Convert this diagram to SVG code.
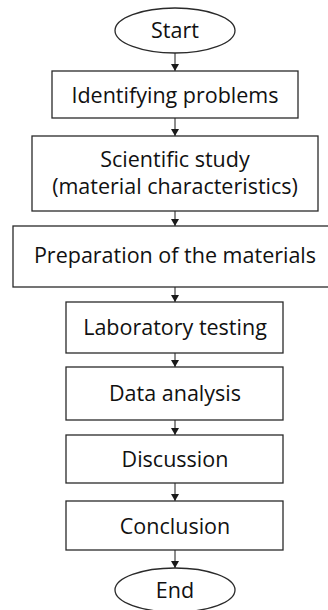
<svg xmlns="http://www.w3.org/2000/svg" width="328" height="610" viewBox="0 0 328 610">
<defs>
<marker id="ah" markerWidth="7" markerHeight="8" refX="7" refY="4" orient="auto" markerUnits="userSpaceOnUse">
<path d="M0,0 L7,4 L0,8 z" fill="#1a1a1a"/>
</marker>
<style>
.n{fill:#fff;stroke:#2a2a2a;stroke-width:1.3}
.t{font-family:"Open Sans","Liberation Sans",sans-serif;font-size:21.5px;fill:#111;text-anchor:middle}
.c{stroke:#1a1a1a;stroke-width:1;fill:none;marker-end:url(#ah)}
</style>
</defs>
<rect width="328" height="610" fill="#fff"/>
<g id="connectors">
<line class="c" x1="175" y1="53" x2="175" y2="71"/>
<line class="c" x1="175" y1="118" x2="175" y2="136"/>
<line class="c" x1="175" y1="211" x2="175" y2="226"/>
<line class="c" x1="175" y1="287" x2="175" y2="302"/>
<line class="c" x1="175" y1="353" x2="175" y2="367"/>
<line class="c" x1="175" y1="420" x2="175" y2="435"/>
<line class="c" x1="175" y1="483" x2="175" y2="501"/>
<line class="c" x1="175" y1="550" x2="175" y2="568"/>
</g>
<g id="start"><ellipse class="n" cx="175" cy="30.5" rx="60" ry="22.5"/><text class="t" x="175" y="38">Start</text></g>
<g id="identifying"><rect class="n" x="52" y="71" width="246" height="47"/><text class="t" x="175" y="103">Identifying problems</text></g>
<g id="study"><rect class="n" x="32" y="136" width="286" height="75"/><text class="t" x="175" y="167">Scientific study</text><text class="t" x="175" y="194">(material characteristics)</text></g>
<g id="preparation"><rect class="n" x="13" y="226" width="320" height="61"/><text class="t" x="175" y="263">Preparation of the materials</text></g>
<g id="lab"><rect class="n" x="66" y="302" width="217" height="51"/><text class="t" x="175" y="335">Laboratory testing</text></g>
<g id="data"><rect class="n" x="66" y="367" width="217" height="53"/><text class="t" x="175" y="401">Data analysis</text></g>
<g id="discussion"><rect class="n" x="66" y="435" width="217" height="48"/><text class="t" x="175" y="467">Discussion</text></g>
<g id="conclusion"><rect class="n" x="66" y="501" width="217" height="49"/><text class="t" x="175" y="534">Conclusion</text></g>
<g id="end"><ellipse class="n" cx="175" cy="590" rx="60" ry="22"/><text class="t" x="175" y="598">End</text></g>
</svg>
